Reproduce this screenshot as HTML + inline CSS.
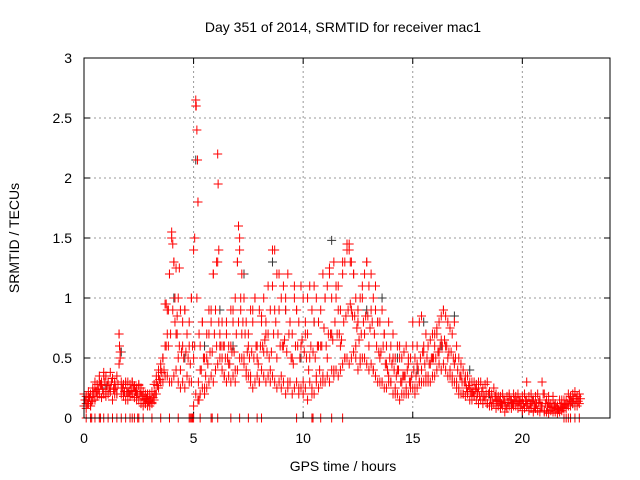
<!DOCTYPE html>
<html><head><meta charset="utf-8"><style>
body{margin:0;background:#fff;}
svg{display:block;font-family:"Liberation Sans",sans-serif;}
</style></head><body>
<svg id="chart" width="640" height="480">
<text x="343" y="32" font-size="14" text-anchor="middle">Day 351 of 2014, SRMTID for receiver mac1</text>
<text x="343" y="471" font-size="14" text-anchor="middle">GPS time / hours</text>
<text transform="translate(19,238) rotate(-90)" font-size="14" text-anchor="middle">SRMTID / TECUs</text>
<g id="grid"></g><g id="ticks"></g><g id="marks"></g>
<rect x="84" y="58" width="526" height="360" fill="none" stroke="#000" stroke-width="1"/>
</svg>
<script>
const xTicks=[0,5,10,15,20];
const yTicks=[0,0.5,1,1.5,2,2.5,3];
const yTickLabels=["0","0.5","1","1.5","2","2.5","3"];
const redT=[0.05,0.1,0.2,0.3,0.4,0.5,0.6,0.7,0.8,0.9,1.0,1.1,1.2,1.3,1.4,1.5,1.6,1.62,1.65,1.7,1.8,1.9,2.0,2.1,2.2,2.3,2.4,2.5,2.6,2.7,2.8,2.9,3.0,3.1,3.2,3.3,3.4,3.5,3.6,3.7,3.75,3.8,3.85,3.9,4.0,4.05,4.1,4.15,4.2,4.25,4.3,4.35,4.4,4.5,4.6,4.7,4.8,4.9,5.0,5.05,5.1,5.12,5.15,5.18,5.2,5.22,5.25,5.3,5.4,5.5,5.6,5.7,5.8,5.9,6.0,6.05,6.1,6.12,6.15,6.2,6.3,6.4,6.5,6.6,6.7,6.8,6.9,7.0,7.05,7.1,7.15,7.2,7.3,7.4,7.5,7.6,7.7,7.8,7.9,8.0,8.1,8.2,8.3,8.4,8.5,8.6,8.7,8.8,8.9,9.0,9.1,9.2,9.3,9.4,9.5,9.6,9.7,9.8,9.9,10.0,10.1,10.2,10.3,10.4,10.5,10.6,10.7,10.8,10.9,11.0,11.1,11.2,11.3,11.4,11.5,11.6,11.7,11.8,11.9,12.0,12.1,12.15,12.2,12.3,12.4,12.5,12.6,12.7,12.8,12.9,13.0,13.1,13.2,13.3,13.4,13.5,13.6,13.7,13.8,13.9,14.0,14.1,14.2,14.3,14.4,14.5,14.6,14.7,14.8,14.9,15.0,15.1,15.2,15.3,15.4,15.5,15.6,15.7,15.8,15.9,16.0,16.1,16.2,16.3,16.4,16.5,16.6,16.7,16.8,16.9,17.0,17.1,17.2,17.3,17.4,17.5,17.6,17.7,17.8,17.9,18.0,18.2,18.4,18.6,18.8,19.0,19.2,19.4,19.6,19.8,20.0,20.2,20.4,20.6,20.8,20.9,21.0,21.2,21.4,21.6,21.8,22.0,22.2,22.4,22.6,
0.1,0.3,0.5,0.7,0.9,1.1,1.3,1.5,1.7,1.9,2.1,2.3,2.5,2.7,3.1,3.5,3.9,4.3,4.8,4.95,5.3,5.8,6.1,6.7,7.1,7.5,7.9,8.1,9.7,10.4,10.8,11.3,11.8,21.9,22.1,0.35,0.75,2.2,2.45,4.85,4.9,5.0,5.85,10.45,10.9,11.0,11.85,22.05];
const redV=[0.15,0.12,0.18,0.1,0.22,0.25,0.2,0.3,0.28,0.35,0.22,0.3,0.25,0.33,0.28,0.2,0.7,0.6,0.5,0.25,0.2,0.28,0.22,0.18,0.3,0.25,0.2,0.27,0.22,0.15,0.12,0.2,0.15,0.13,0.2,0.3,0.35,0.4,0.5,0.6,0.95,0.7,0.9,1.2,1.55,1.45,1.3,1.0,0.7,0.85,0.5,1.25,0.4,0.6,0.9,0.35,0.8,1.0,0.5,1.5,2.65,2.6,2.4,2.15,1.8,0.3,0.15,0.4,0.8,0.25,0.5,0.7,0.9,1.2,0.4,1.3,2.2,1.95,1.4,0.6,0.5,0.35,0.8,0.45,0.6,0.9,0.3,1.3,1.6,1.5,1.0,0.7,0.5,0.4,0.6,0.35,0.9,1.0,0.5,0.3,0.8,0.55,0.7,1.1,0.4,1.4,0.9,0.5,1.2,0.35,0.6,1.0,0.3,0.8,0.5,1.1,0.9,0.25,0.6,0.3,0.7,1.0,0.5,0.2,1.1,0.35,0.8,0.6,0.3,1.0,0.5,1.25,0.7,0.4,1.1,0.9,0.6,1.3,0.5,1.45,1.4,1.3,0.9,1.2,0.6,0.8,0.5,1.0,0.7,1.3,0.6,0.9,0.4,1.1,0.8,0.5,0.3,0.7,0.45,0.35,0.3,0.5,0.25,0.4,0.6,0.3,0.35,0.2,0.5,0.3,0.8,0.25,0.45,0.3,0.4,0.55,0.35,0.3,0.45,0.5,0.6,0.7,0.55,0.65,0.9,0.6,0.5,0.4,0.35,0.45,0.3,0.25,0.35,0.2,0.3,0.22,0.25,0.2,0.18,0.25,0.3,0.15,0.12,0.1,0.15,0.1,0.13,0.18,0.12,0.1,0.15,0.3,0.12,0.08,0.15,0.1,0.05,0.12,0.18,0.1,0.15,
0,0,0,0,0,0,0,0,0,0,0,0,0,0,0,0,0,0,0,0,0,0,0,0,0,0,0,0,0,0,0,0,0,0,0,0,0,0,0,0,0,0,0,0,0,0,0,0];
const denseT=[0,0.1,0.2,0.3,0.4,0.5,0.6,0.7,0.8,0.9,1,1.1,1.2,1.3,1.4,1.5,1.6,1.7,1.8,1.9,2,2.1,2.2,2.3,2.4,2.5,2.6,2.7,2.8,2.9,3,3.1,3.2,3.3,3.4,3.5,3.6,3.7,3.8,3.9,4,4.1,4.2,4.3,4.4,4.5,4.6,4.7,4.8,4.9,5,5.1,5.2,5.3,5.4,5.5,5.6,5.7,5.8,5.9,6,6.1,6.2,6.3,6.4,6.5,6.6,6.7,6.8,6.9,7,7.1,7.2,7.3,7.4,7.5,7.6,7.7,7.8,7.9,8,8.1,8.2,8.3,8.4,8.5,8.6,8.7,8.8,8.9,9,9.1,9.2,9.3,9.4,9.5,9.6,9.7,9.8,9.9,10,10.1,10.2,10.3,10.4,10.5,10.6,10.7,10.8,10.9,11,11.1,11.2,11.3,11.4,11.5,11.6,11.7,11.8,11.9,12,12.1,12.2,12.3,12.4,12.5,12.6,12.7,12.8,12.9,13,13.1,13.2,13.3,13.4,13.5,13.6,13.7,13.8,13.9,14,14.1,14.2,14.3,14.4,14.5,14.6,14.7,14.8,14.9,15,15.1,15.2,15.3,15.4,15.5,15.6,15.7,15.8,15.9,16,16.1,16.2,16.3,16.4,16.5,16.6,16.7,16.8,16.9,17,17.1,17.2,17.3,17.4,17.5,17.6,17.7,17.8,17.9,18,18.1,18.2,18.3,18.4,18.5,18.6,18.7,18.8,18.9,19,19.1,19.2,19.3,19.4,19.5,19.6,19.7,19.8,19.9,20,20.1,20.2,20.3,20.4,20.5,20.6,20.7,20.8,20.9,21,21.1,21.2,21.3,21.4,21.5,21.6,21.7,21.8,21.9,22,22.1,22.2,22.3,22.4,22.5,22.6];
const denseLo=[.1,.08,.12,.1,.15,.15,.18,.2,.17,.2,.18,.2,.22,.15,.2,.2,.45,.2,.18,.15,.15,.18,.2,.17,.15,.15,.12,.1,.12,.1,.1,.12,.15,.2,.25,.3,.3,.35,.35,.3,.3,.35,.4,.3,.25,.3,.25,.35,.3,.3,.1,.2,.15,.2,.25,.2,.25,.3,.35,.3,.4,.45,.5,.4,.35,.3,.35,.3,.35,.4,.4,.5,.5,.45,.35,.35,.3,.25,.3,.35,.3,.4,.35,.3,.35,.3,.35,.3,.25,.3,.25,.3,.2,.25,.3,.2,.25,.3,.2,.25,.2,.25,.15,.3,.25,.2,.3,.25,.3,.35,.3,.35,.3,.4,.35,.4,.35,.4,.45,.5,.5,.45,.5,.55,.5,.4,.45,.5,.5,.45,.4,.45,.4,.35,.3,.3,.3,.25,.25,.3,.3,.2,.2,.2,.15,.2,.2,.25,.2,.25,.25,.2,.25,.3,.3,.3,.3,.35,.3,.35,.35,.4,.45,.4,.45,.4,.35,.35,.3,.3,.25,.2,.2,.2,.18,.2,.15,.15,.18,.15,.12,.15,.12,.15,.12,.1,.1,.12,.08,.1,.08,.1,.05,.08,.1,.08,.1,.1,.08,.1,.06,.08,.1,.06,.08,.05,.08,.06,.05,.1,.06,.05,.04,.06,.05,.05,.04,.05,.06,.08,.08,.1,.1,.12,.1,.1,.12];
const denseMid=[.15,.12,.17,.14,.2,.22,.24,.28,.24,.3,.27,.25,.3,.24,.25,.28,.55,.25,.22,.22,.22,.23,.25,.22,.2,.2,.18,.16,.16,.14,.15,.17,.2,.27,.32,.38,.4,.6,.6,.7,.9,.8,.7,.6,.55,.5,.55,.5,.45,.6,.6,1.0,.7,.4,.5,.35,.45,.55,.55,.7,.6,.8,.6,.6,.5,.5,.45,.55,.55,.7,.8,.9,.8,.7,.55,.5,.55,.5,.6,.45,.6,.6,.65,.55,.5,.55,.7,.8,.7,.6,.6,.65,.55,.7,.5,.45,.6,.6,.5,.65,.55,.5,.4,.6,.55,.5,.6,.4,.6,.75,.6,.7,.7,.65,.8,.7,.7,.65,.8,.85,.9,.95,.85,.85,.75,.65,.7,.8,.85,.85,.75,.8,.7,.6,.55,.55,.6,.45,.4,.5,.45,.4,.35,.4,.3,.35,.35,.4,.3,.35,.4,.35,.4,.5,.55,.45,.5,.45,.5,.5,.5,.55,.6,.6,.65,.6,.55,.55,.5,.5,.4,.35,.3,.3,.25,.27,.22,.22,.24,.2,.18,.22,.18,.2,.2,.15,.15,.18,.14,.14,.12,.15,.1,.13,.15,.12,.15,.14,.14,.12,.12,.14,.12,.12,.14,.1,.12,.13,.1,.2,.12,.1,.1,.09,.1,.08,.07,.1,.09,.11,.12,.15,.14,.16,.16,.14,.16];
const denseHi=[.2,.18,.22,.2,.25,.3,.28,.35,.3,.38,.35,.3,.38,.33,.3,.35,.7,.3,.28,.3,.3,.28,.3,.27,.25,.28,.25,.22,.2,.18,.2,.22,.28,.35,.4,.45,.5,.95,.9,1.2,1.5,1.3,1.25,1.0,.9,.8,.9,.7,.6,1.0,1.4,2.6,1.8,.6,.8,.5,.7,.9,.8,1.2,.9,1.3,.7,.8,.6,.7,.6,.9,.8,1.0,1.3,1.4,1.2,1.0,.8,.7,.9,.8,1.0,.6,.9,.85,1.0,.8,.7,.9,1.1,1.4,1.2,.9,1.0,1.1,.9,1.2,.8,.7,1.0,.9,.8,1.1,1.0,.8,.7,1.1,.9,.8,1.0,.6,.9,1.2,1.0,1.1,1.2,1.0,1.3,1.0,1.1,.9,1.2,1.3,1.4,1.45,1.3,1.2,1.0,.9,1.0,1.1,1.2,1.3,1.1,1.2,1.0,.9,.8,.8,.9,.7,.6,.8,.6,.7,.5,.6,.5,.5,.55,.6,.45,.5,.6,.5,.6,.8,.85,.6,.7,.6,.65,.7,.7,.75,.8,.85,.9,.85,.8,.75,.7,.8,.6,.5,.45,.4,.35,.35,.3,.3,.3,.28,.25,.3,.25,.28,.3,.22,.2,.25,.2,.18,.18,.2,.15,.18,.2,.15,.2,.18,.2,.15,.18,.2,.15,.18,.2,.15,.18,.2,.15,.3,.2,.15,.18,.12,.15,.12,.1,.15,.12,.15,.15,.2,.18,.2,.22,.18,.2];
const blackT=[0.2,1.0,1.7,2.4,3.6,4.1,4.6,5.1,5.5,6.2,6.8,7.3,8.6,9.2,9.9,10.5,11.3,12.3,12.9,13.6,14.3,15.2,15.5,16.3,16.9,17.6,18.5,19.5,20.5,21.5,22.3];
const blackV=[0.15,0.25,0.55,0.2,0.5,1.0,0.5,2.15,0.6,0.9,0.6,1.2,1.3,0.9,0.5,0.8,1.48,1.2,0.9,1.0,0.5,0.4,0.8,0.6,0.85,0.4,0.2,0.12,0.15,0.1,0.12];
const X0=84,X1=610,Y0=418,Y1=58;
const xs=t=>X0+(t/24)*(X1-X0);
const ys=v=>Y0-(v/3)*(Y0-Y1);
const NS="http://www.w3.org/2000/svg";
const grid=document.getElementById('grid'),ticks=document.getElementById('ticks'),marks=document.getElementById('marks');
function ln(p,x1,y1,x2,y2,st,dash){const l=document.createElementNS(NS,'line');l.setAttribute('x1',x1);l.setAttribute('y1',y1);l.setAttribute('x2',x2);l.setAttribute('y2',y2);l.setAttribute('stroke',st);if(dash)l.setAttribute('stroke-dasharray',dash);p.appendChild(l);return l;}
function tx(x,y,s,a){const t=document.createElementNS(NS,'text');t.setAttribute('x',x);t.setAttribute('y',y);t.setAttribute('font-size','14');t.setAttribute('text-anchor',a);t.textContent=s;ticks.appendChild(t);return t;}
xTicks.forEach(v=>{const x=xs(v);
 if(v>0){const g=ln(grid,x,Y0,x,Y1,'#999','2,3');
 
 }
 ln(ticks,x,Y0,x,Y0-6,'#000');ln(ticks,x,Y1,x,Y1+6,'#000');
 const t=tx(x,443,String(v),'middle');
 
 });
yTicks.forEach((v,i)=>{const y=ys(v);
 if(v>0&&v<3){const g=ln(grid,X0,y,X1,y,'#999','2,3');
 
 }
 ln(ticks,X0,y,X0+6,y,'#000');ln(ticks,X1,y,X1-6,y,'#000');
 const t=tx(72,y+5,yTickLabels[i],'end');
 
 });
function plus(t,v,c,name){const x=xs(t),y=ys(v);const p=document.createElementNS(NS,'path');
 p.setAttribute('d',`M${x-4.5},${y}H${x+4.5}M${x},${y-4.5}V${y+4.5}`);p.setAttribute('stroke',c);p.setAttribute('stroke-width','1');
 
 
 marks.appendChild(p);}
blackT.forEach((t,i)=>plus(t,blackV[i],'#333','point-black'));
denseT.forEach((t,i)=>{plus(t,denseLo[i],'#f00','point-red');plus(t+0.05,denseMid[i],'#f00','point-red');plus(t,denseHi[i],'#f00','point-red');});
redT.forEach((t,i)=>plus(t,redV[i],'#f00','point-red'));
</script>
</body></html>
